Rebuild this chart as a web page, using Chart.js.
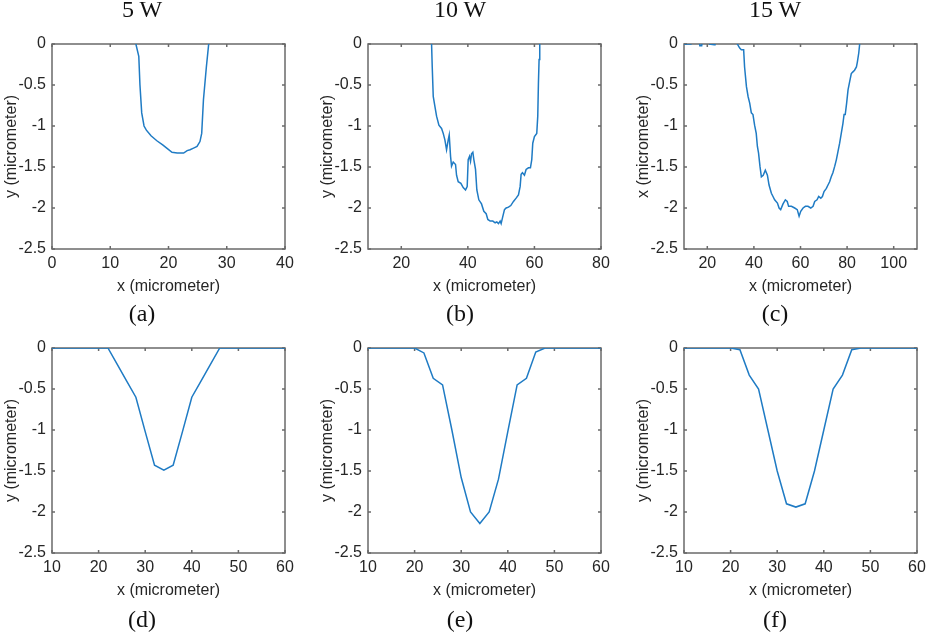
<!DOCTYPE html>
<html>
<head>
<meta charset="utf-8">
<script src="https://cdn.jsdelivr.net/npm/chart.js@4.4.1/dist/chart.umd.min.js"></script>
<style>
  html, body { margin: 0; padding: 0; background: #fff; }
  #fig { position: relative; width: 926px; height: 632px; overflow: hidden; }
  #fig canvas { position: absolute; left: 0; top: 0; }
  .lbl {
    position: absolute; font-family: "Liberation Serif", "Times New Roman", serif;
    font-size: 24px; line-height: 24px; color: #111; white-space: nowrap;
    transform: translateX(-50%);
  }
</style>
</head>
<body>
<div id="fig"></div>
<script>
// measured crater profiles (x, y in micrometer)
const aX = [14.4, 14.9, 15.1, 15.4, 15.8, 16.2, 17.0, 18.0, 19.0, 19.7, 20.6, 21.5, 22.6, 23.2, 23.7, 24.3, 24.9, 25.4, 25.7, 26.0, 26.5, 26.9];
const aY = [0, -0.15, -0.5, -0.84, -1.0, -1.05, -1.12, -1.18, -1.23, -1.27, -1.32, -1.33, -1.33, -1.30, -1.29, -1.27, -1.25, -1.19, -1.09, -0.68, -0.28, 0];

const bX = [29.1, 29.3, 29.6, 30.1, 30.6, 31.3, 32.1, 32.6, 33.1, 33.6, 34.1, 34.4, 34.8, 35.1, 35.6, 36.3, 36.6, 37.1, 37.9, 38.6,
  39.3, 39.8, 40.1, 40.5, 40.8, 41.1, 41.5, 41.8, 42.3, 42.7, 43.3, 44.1, 44.8, 45.5, 46.0, 46.7, 47.5, 48.2, 48.7, 49.2,
  49.7, 50.0, 50.4, 51.0, 51.5, 52.2, 52.9, 53.7, 54.5, 55.2, 55.7, 56.0, 56.4, 57.0, 57.5, 58.2, 58.8, 59.2, 59.5, 60.0,
  60.7, 61.0, 61.2, 61.4, 61.6];
const bY = [0, -0.28, -0.64, -0.76, -0.88, -0.99, -1.03, -1.09, -1.17, -1.29, -1.17, -1.11, -1.37, -1.49, -1.44, -1.47, -1.60, -1.68, -1.70, -1.75,
  -1.78, -1.74, -1.41, -1.37, -1.43, -1.34, -1.32, -1.41, -1.53, -1.78, -1.90, -1.95, -2.04, -2.07, -2.14, -2.16, -2.16, -2.18, -2.17, -2.19,
  -2.16, -2.19, -2.12, -2.02, -2.00, -1.99, -1.97, -1.92, -1.88, -1.84, -1.74, -1.59, -1.57, -1.60, -1.53, -1.51, -1.51, -1.41, -1.21, -1.13,
  -1.09, -0.88, -0.48, -0.19, 0];

const cX = [10, 13, 13.3, 16.5, 16.8, 17.6, 17.9, 20.8, 21, 23, 23.3, 32.6,
  32.9, 33.9, 34.6, 35.6, 36.0, 36.8, 37.5, 38.2, 38.9, 39.6, 40.3, 41.0, 41.5, 42.0, 42.6, 43.2, 44.0, 44.9, 45.8, 46.5,
  47.5, 48.2, 48.9, 50.1, 50.8, 51.5, 52.5, 53.5, 54.3, 54.9, 56.1, 57.5, 58.6, 59.4, 60.1, 61.1, 62.1, 63.2, 64.4, 65.4,
  66.1, 67.1, 67.8, 68.7, 69.4, 70.1, 71.1, 71.8, 72.5, 73.2, 73.9, 74.7, 75.4, 76.1, 76.8, 77.5, 78.2, 78.7, 79.2, 79.8,
  80.4, 81.1, 81.8, 82.5, 83.2, 84.0, 84.4, 85.0, 85.4];
const cY = [0, 0, 0.05, 0.05, -0.02, -0.02, 0.05, 0.05, 0, -0.01, 0.05, 0.05,
  0, -0.05, -0.07, -0.07, -0.28, -0.52, -0.64, -0.72, -0.84, -0.86, -0.99, -1.09, -1.25, -1.33, -1.49, -1.62, -1.60, -1.54, -1.60, -1.72,
  -1.82, -1.86, -1.90, -1.94, -2.00, -2.02, -1.95, -1.90, -1.92, -1.98, -1.98, -2.00, -2.02, -2.10, -2.04, -2.00, -1.98, -1.98, -2.00, -1.98,
  -1.92, -1.90, -1.86, -1.88, -1.86, -1.80, -1.76, -1.72, -1.68, -1.62, -1.57, -1.49, -1.41, -1.31, -1.21, -1.09, -0.97, -0.86, -0.86, -0.72,
  -0.56, -0.46, -0.36, -0.34, -0.32, -0.28, -0.22, -0.11, 0];

// simulated profiles
const simX = [10, 12, 14, 16, 18, 20, 22, 24, 26, 28, 30, 32, 34, 36, 38, 40, 42, 44, 46, 48, 50, 52, 54, 56, 58, 60];
const dY = [0, 0, 0, 0, 0, 0, 0, -0.2, -0.4, -0.6, -1.02, -1.43, -1.49, -1.43, -1.02, -0.6, -0.4, -0.2, 0, 0, 0, 0, 0, 0, 0, 0];
const eY = [0, 0, 0, 0, 0, 0, -0.06, -0.37, -0.45, -1.0, -1.58, -2.0, -2.14, -2.0, -1.6, -1.02, -0.45, -0.37, -0.05, 0, 0, 0, 0, 0, 0, 0];
const fY = [0, 0, 0, 0, 0, 0, -0.02, -0.33, -0.5, -1.0, -1.5, -1.9, -1.94, -1.9, -1.5, -1.0, -0.5, -0.33, -0.02, 0, 0, 0, 0, 0, 0, 0];

const xTicksA = [0, 10, 20, 30, 40];
const xTicksB = [20, 40, 60, 80];
const xTicksC = [20, 40, 60, 80, 100];
const xTicksSim = [10, 20, 30, 40, 50, 60];
const yTicks = [-2.5, -2, -1.5, -1, -0.5, 0];

const powerTitles = ['5 W', '10 W', '15 W'];
const captions = ['(a)', '(b)', '(c)', '(d)', '(e)', '(f)'];

const W = 926, H = 632;
const colL = [52, 368, 684], colR = [285, 601, 917];
const rowT = [44, 348], rowB = [249, 553];
const YW = 50, XH = 50;
const ink = '#262626';
const tickFont = { family: '"Liberation Sans", Arial, sans-serif', size: 16 };

const panels = [
  { xs: aX, ys: aY, min: 0, max: 40, ticks: xTicksA, yTitle: 'y (micrometer)' },
  { xs: bX, ys: bY, min: 10, max: 80, ticks: xTicksB, yTitle: 'y (micrometer)' },
  { xs: cX, ys: cY, min: 10, max: 110, ticks: xTicksC, yTitle: 'x (micrometer)' },
  { xs: simX, ys: dY, min: 10, max: 60, ticks: xTicksSim, yTitle: 'y (micrometer)' },
  { xs: simX, ys: eY, min: 10, max: 60, ticks: xTicksSim, yTitle: 'y (micrometer)' },
  { xs: simX, ys: fY, min: 10, max: 60, ticks: xTicksSim, yTitle: 'y (micrometer)' }
];

// box around the axes with small inward ticks on all four sides
const boxPlugin = {
  id: 'matlabBox',
  beforeDatasetsDraw(chart) {
    const { ctx, chartArea: a, scales: { x, y } } = chart;
    ctx.save();
    ctx.strokeStyle = '#6a6a6a';
    ctx.lineWidth = 1.5;
    ctx.strokeRect(a.left, a.top, a.right - a.left, a.bottom - a.top);
    ctx.beginPath();
    x.ticks.forEach(t => {
      const px = x.getPixelForValue(t.value);
      ctx.moveTo(px, a.bottom); ctx.lineTo(px, a.bottom - 3);
      ctx.moveTo(px, a.top); ctx.lineTo(px, a.top + 3);
    });
    y.ticks.forEach(t => {
      const py = y.getPixelForValue(t.value);
      ctx.moveTo(a.left, py); ctx.lineTo(a.left + 3, py);
      ctx.moveTo(a.right, py); ctx.lineTo(a.right - 3, py);
    });
    ctx.stroke();
    ctx.restore();
  }
};

const fig = document.getElementById('fig');

panels.forEach((p, i) => {
  const col = i % 3, row = Math.floor(i / 3);
  const L = colL[col], R = colR[col], T = rowT[row], B = rowB[row];
  const canvas = document.createElement('canvas');
  canvas.width = W; canvas.height = H;
  canvas.style.width = W + 'px'; canvas.style.height = H + 'px';
  fig.appendChild(canvas);

  new Chart(canvas.getContext('2d'), {
    type: 'line',
    data: {
      datasets: [{
        data: p.xs.map((x, k) => ({ x: x, y: p.ys[k] })),
        borderColor: '#1f7bc4',
        borderWidth: 1.5,
        pointRadius: 0,
        tension: 0
      }]
    },
    options: {
      responsive: false,
      animation: false,
      events: [],
      layout: {
        autoPadding: false,
        padding: { left: L - YW, right: W - R, top: T, bottom: H - B - XH }
      },
      plugins: { legend: { display: false }, tooltip: { enabled: false } },
      scales: {
        x: {
          type: 'linear', min: p.min, max: p.max,
          grid: { display: false, drawTicks: false },
          border: { display: false },
          afterBuildTicks: s => { s.ticks = p.ticks.map(v => ({ value: v })); },
          afterFit: s => { s.height = XH; s.paddingLeft = 0; s.paddingRight = 0; },
          ticks: { color: ink, font: tickFont, padding: 5, maxRotation: 0, autoSkip: false },
          title: { display: true, text: 'x (micrometer)', color: ink, font: tickFont, padding: { top: 0, bottom: 3 } }
        },
        y: {
          type: 'linear', min: -2.5, max: 0,
          grid: { display: false, drawTicks: false },
          border: { display: false },
          afterBuildTicks: s => { s.ticks = yTicks.map(v => ({ value: v })); },
          afterFit: s => { s.width = YW; s.paddingTop = 0; s.paddingBottom = 0; },
          ticks: { color: ink, font: tickFont, padding: 6, autoSkip: false, callback: v => String(v) },
          title: { display: true, text: p.yTitle, color: ink, font: tickFont, padding: { top: 0, bottom: 0 } }
        }
      }
    },
    plugins: [boxPlugin]
  });
});

// column headings and sub-figure captions
const headX = [142, 460, 775];
powerTitles.forEach((t, k) => {
  const d = document.createElement('div');
  d.className = 'lbl';
  d.textContent = t;
  d.style.left = headX[k] + 'px';
  d.style.top = '-3px';
  fig.appendChild(d);
});
const capTop = [301, 607];
captions.forEach((t, i) => {
  const d = document.createElement('div');
  d.className = 'lbl';
  d.textContent = t;
  d.style.left = headX[i % 3] + 'px';
  d.style.top = capTop[Math.floor(i / 3)] + 'px';
  fig.appendChild(d);
});
</script>
</body>
</html>
